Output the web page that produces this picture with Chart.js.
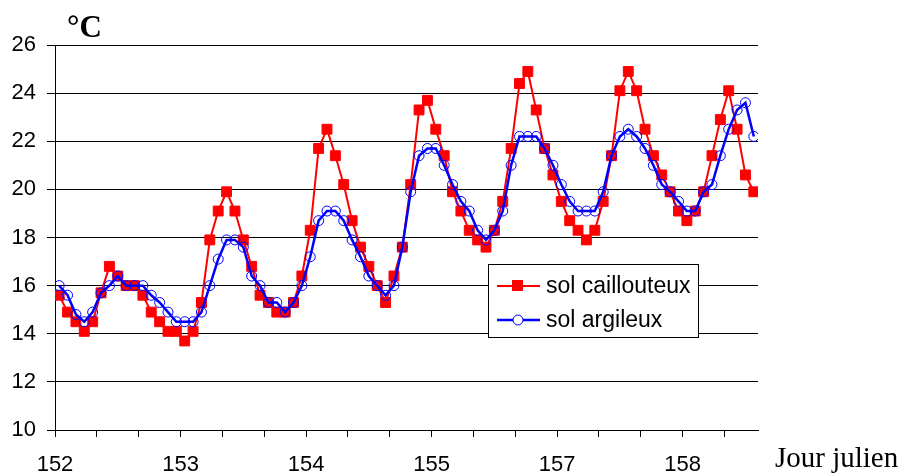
<!DOCTYPE html>
<html>
<head>
<meta charset="utf-8">
<script src="https://cdn.jsdelivr.net/npm/chart.js@4.4.0/dist/chart.umd.min.js"></script>
<style>
  html, body { margin: 0; padding: 0; background: #fff; }
</style>
</head>
<body>
<canvas id="chart" width="902" height="474"></canvas>
<script>
// day labels shown every 15 readings (as in the original sheet)
const dayLabels = ['152', '153', '154', '155', '157', '158'];
const yTicks = [10, 12, 14, 16, 18, 20, 22, 24, 26];

const solCaillouteux = [
  15.6, 14.9, 14.5, 14.1, 14.5, 15.7, 16.8, 16.4, 16.0, 16.0, 15.6, 14.9, 14.5, 14.1, 14.1,
  13.7, 14.1, 15.3, 17.9, 19.1, 19.9, 19.1, 17.9, 16.8, 15.6, 15.3, 14.9, 14.9, 15.3, 16.4,
  18.3, 21.7, 22.5, 21.4, 20.2, 18.7, 17.6, 16.8, 16.0, 15.3, 16.4, 17.6, 20.2, 23.3, 23.7,
  22.5, 21.4, 19.9, 19.1, 18.3, 17.9, 17.6, 18.3, 19.5, 21.7, 24.4, 24.9, 23.3, 21.7, 20.6,
  19.5, 18.7, 18.3, 17.9, 18.3, 19.5, 21.4, 24.1, 24.9, 24.1, 22.5, 21.4, 20.6, 19.9, 19.1,
  18.7, 19.1, 19.9, 21.4, 22.9, 24.1, 22.5, 20.6, 19.9
];

const solArgileux = [
  16.0, 15.6, 14.8, 14.5, 14.9, 15.7, 16.0, 16.4, 16.0, 16.0, 16.0, 15.6, 15.3, 14.9, 14.5,
  14.5, 14.5, 14.9, 16.0, 17.1, 17.9, 17.9, 17.6, 16.4, 16.0, 15.3, 15.3, 14.9, 15.3, 16.0,
  17.2, 18.7, 19.1, 19.1, 18.7, 17.9, 17.2, 16.4, 16.0, 15.6, 16.0, 17.6, 19.9, 21.4, 21.7,
  21.7, 21.0, 20.2, 19.5, 19.1, 18.3, 17.9, 18.3, 19.1, 21.0, 22.2, 22.2, 22.2, 21.7, 21.0,
  20.2, 19.5, 19.1, 19.1, 19.1, 19.9, 21.4, 22.2, 22.5, 22.2, 21.7, 21.0, 20.2, 19.9, 19.5,
  19.1, 19.1, 19.9, 20.2, 21.4, 22.5, 23.3, 23.6, 22.2
];

const toPoints = arr => arr.map((v, i) => ({ x: i, y: v }));

// legend box + axis captions
const extras = {
  id: 'extras',
  afterDraw(chart) {
    const ctx = chart.ctx;
    ctx.save();
    ctx.fillStyle = '#000';
    ctx.textBaseline = 'alphabetic';
    ctx.font = 'bold 31px "Liberation Serif"';
    ctx.fillText('°C', 67, 37);
    ctx.font = '29px "Liberation Serif"';
    ctx.fillText('Jour julien', 775, 467);

    // legend
    ctx.fillStyle = '#fff';
    ctx.fillRect(488, 264, 211, 74);
    ctx.strokeStyle = '#000';
    ctx.lineWidth = 1;
    ctx.strokeRect(488.5, 264.5, 210, 73);

    ctx.strokeStyle = '#ff0000';
    ctx.lineWidth = 2;
    ctx.beginPath();
    ctx.moveTo(497, 286);
    ctx.lineTo(540, 286);
    ctx.stroke();
    ctx.fillStyle = '#ff0000';
    ctx.fillRect(512, 280, 11, 11);

    ctx.strokeStyle = '#0000ff';
    ctx.lineWidth = 2.5;
    ctx.beginPath();
    ctx.moveTo(497, 320);
    ctx.lineTo(540, 320);
    ctx.stroke();
    ctx.lineWidth = 1;
    ctx.fillStyle = '#fff';
    ctx.beginPath();
    ctx.arc(518, 320, 5, 0, Math.PI * 2);
    ctx.fill();
    ctx.stroke();

    ctx.fillStyle = '#000';
    ctx.font = '23px "Liberation Sans"';
    ctx.textBaseline = 'middle';
    ctx.fillText('sol caillouteux', 546, 287);
    ctx.fillText('sol argileux', 546, 321);
    ctx.restore();
  }
};

new Chart(document.getElementById('chart'), {
  type: 'line',
  data: {
    datasets: [
      {
        label: 'sol caillouteux',
        data: toPoints(solCaillouteux),
        borderColor: '#ff0000',
        backgroundColor: '#ff0000',
        borderWidth: 2,
        pointStyle: 'rect',
        pointRadius: 7,
        pointBorderWidth: 1,
        tension: 0,
        order: 2
      },
      {
        label: 'sol argileux',
        data: toPoints(solArgileux),
        borderColor: '#0000ff',
        backgroundColor: 'rgba(0,0,0,0)',
        borderWidth: 2.5,
        pointStyle: 'circle',
        pointRadius: 5,
        pointBorderWidth: 1,
        tension: 0,
        order: 1
      }
    ]
  },
  options: {
    responsive: false,
    animation: false,
    layout: { padding: { top: 45, right: 144, left: 0, bottom: 0 } },
    plugins: {
      legend: { display: false },
      tooltip: { enabled: false }
    },
    scales: {
      x: {
        type: 'linear',
        min: -0.5,
        max: 83.5,
        afterBuildTicks: scale => {
          const t = [];
          for (let v = -0.5; v <= 83.5; v += 5) t.push({ value: v });
          scale.ticks = t;
        },
        afterFit: scale => { scale.height = 44; },
        ticks: {
          autoSkip: false,
          maxRotation: 0,
          padding: 15,
          color: '#000',
          font: { family: 'Liberation Sans', size: 22 },
          callback: (value, index) => (index % 3 === 0 ? dayLabels[index / 3] || '' : '')
        },
        grid: { drawOnChartArea: false, drawTicks: true, tickLength: 7, color: '#000' },
        border: { display: true, color: '#000', width: 1 }
      },
      y: {
        min: 10,
        max: 26,
        afterBuildTicks: scale => { scale.ticks = yTicks.map(v => ({ value: v })); },
        afterFit: scale => { scale.width = 55; },
        ticks: {
          padding: 11,
          color: '#000',
          font: { family: 'Liberation Sans', size: 22 }
        },
        grid: { color: '#000', lineWidth: 1, tickLength: 8 },
        border: { display: true, color: '#000', width: 1 }
      }
    }
  },
  plugins: [extras]
});
</script>
</body>
</html>
